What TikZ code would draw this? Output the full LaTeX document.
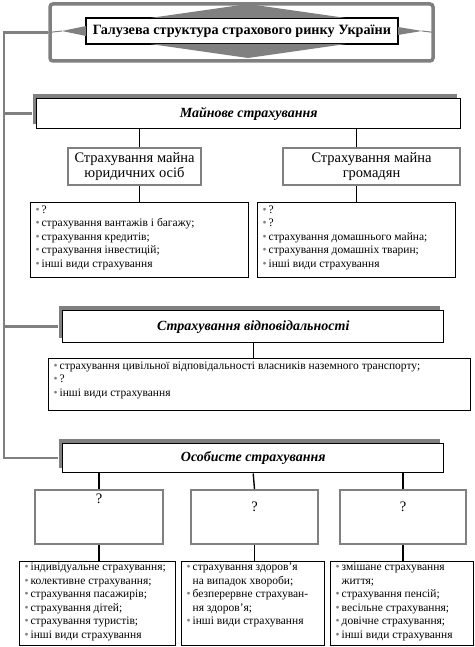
\documentclass[tikz,border=0pt]{standalone}
\usepackage{fontspec}
\setmainfont{Liberation Serif}
\usetikzlibrary{shadows}

\newcommand{\bl}{\textcolor{gray}{\textbullet}\,}
\newcommand{\bi}{\phantom{\textbullet}\,}
\newcommand{\topbox}[3]{\parbox[c][#2][t]{#1}{#3}}

\tikzset{
  frm/.style={draw=gray,line width=3.5pt,rounded corners=3pt},
  hdbox/.style={draw,line width=1.4pt,fill=white,anchor=north west,inner sep=0pt,
    font=\fontsize{14}{16}\selectfont\bfseries\itshape,
    general shadow={fill=gray,shadow xshift=-4pt,shadow yshift=5pt}},
  subbox/.style={draw=gray,line width=2pt,fill=white,anchor=north west,inner sep=0pt,
    align=center,font=\fontsize{14.5}{14.5}\selectfont},
  lstbox/.style={draw,line width=1.4pt,fill=white,anchor=north west,
    inner xsep=5pt,inner ysep=3pt,font=\fontsize{11.5}{13.5}\selectfont},
  conn/.style={line width=1.4pt},
  trunk/.style={draw=gray,line width=2.5pt},
}

\begin{document}
\begin{tikzpicture}[x=1pt,y=-1pt]
\useasboundingbox (0,0) rectangle (474,647);

% title
\node[frm,minimum width=383pt,minimum height=57pt] (frame) at (241.5,32.5) {};
\node[draw,line width=1.4pt,fill=white,minimum width=312pt,minimum height=26pt,inner sep=0pt,
      font=\fontsize{14.2}{15}\selectfont\bfseries] (ttl) at (242,31)
      {Галузева структура страхового ринку України};
\fill[gray] (62,31) -- (86,26) -- (86,36) -- cycle;
\fill[gray] (422,31) -- (398,27) -- (398,35) -- cycle;
\fill[gray] (150,18) -- (248,4) -- (346,18) -- cycle;
\fill[gray] (150,44) -- (248,58) -- (346,44) -- cycle;
\draw[gray,line width=1pt] (frame.west) -- (62,31) (422,31) -- (frame.east);

% property
\node[hdbox,minimum width=424pt,minimum height=30pt] (maj) at (36,98) {Майнове страхування};
\node[subbox,minimum width=133pt,minimum height=37pt] (s1) at (67,147)
  {Страхування майна\\юридичних осіб};
\node[subbox,minimum width=177pt,minimum height=37pt] (s2) at (282,147)
  {Страхування майна\\громадян};
\node[lstbox] (l1) at (30,202) {\topbox{208pt}{69pt}{%
  \bl ?\\
  \bl страхування вантажів і багажу;\\
  \bl страхування кредитів;\\
  \bl страхування інвестицій;\\
  \bl інші види страхування}};
\node[lstbox] (l2) at (257,202) {\topbox{188pt}{69pt}{%
  \bl ?\\
  \bl ?\\
  \bl страхування домашнього майна;\\
  \bl страхування домашніх тварин;\\
  \bl інші види страхування}};

% liability
\node[hdbox,minimum width=381pt,minimum height=32pt] (vid) at (62,310) {Страхування відповідальності};
\node[lstbox] (l3) at (48,358) {\topbox{412pt}{46pt}{%
  \bl страхування цивільної відповідальності власників наземного транспорту;\\
  \bl ?\\
  \bl інші види страхування}};

% personal
\node[hdbox,minimum width=381pt,minimum height=29pt] (os) at (62,443) {Особисте страхування};
\node[subbox,minimum width=128pt,minimum height=54pt] (g1) at (34,489)
  {\topbox{120pt}{50pt}{\centering\vspace{2pt}?}};
\node[subbox,minimum width=127pt,minimum height=54pt] (g2) at (190,489)
  {\topbox{120pt}{50pt}{\centering\vspace{10pt}?}};
\node[subbox,minimum width=126pt,minimum height=54pt] (g3) at (339,489)
  {\topbox{120pt}{50pt}{\centering\vspace{10pt}?}};
\node[lstbox,inner ysep=1.5pt] (l4) at (19,561) {\topbox{146pt}{81pt}{%
  \bl індивідуальне страхування;\\
  \bl колективне страхування;\\
  \bl страхування пасажирів;\\
  \bl страхування дітей;\\
  \bl страхування туристів;\\
  \bl інші види страхування}};
\node[lstbox,inner ysep=1.5pt] (l5) at (181,561) {\topbox{133pt}{81pt}{%
  \bl страхування здоров’я\\
  \bi на випадок хвороби;\\
  \bl безперервне страхуван-\\
  \bi ня здоров’я;\\
  \bl інші види страхування}};
\node[lstbox,inner ysep=1.5pt] (l6) at (330,561) {\topbox{133pt}{81pt}{%
  \bl змішане страхування\\
  \bi життя;\\
  \bl страхування пенсій;\\
  \bl весільне страхування;\\
  \bl довічне страхування;\\
  \bl інші види страхування}};

% connectors
\coordinate (tk) at (4,0);
\draw[trunk] (frame.west) -- (frame.west -| tk) -- (tk |- os.west) -- ([xshift=-4pt]os.west);
\draw[trunk] (tk |- maj.west) -- ([xshift=-4pt]maj.west);
\draw[trunk] (tk |- vid.west) -- ([xshift=-4pt]vid.west);
\draw[conn] (maj.south -| l1.north) -- (s1.north -| l1.north);
\draw[conn] (s1.south -| l1.north) -- (l1.north);
\draw[conn] (maj.south -| l2.north) -- (s2.north -| l2.north);
\draw[conn] (s2.south -| l2.north) -- (l2.north);
\draw[conn] (vid.south) -- (vid.south |- l3.north);
\draw[conn] (os.south -| g1.north) -- (g1.north);
\draw[conn] (os.south) -- (g2.north);
\draw[conn] (os.south -| g3.north) -- (g3.north);
\draw[conn] (g1.south) -- (g1.south |- l4.north);
\draw[conn] (g2.south) -- (g2.south |- l5.north);
\draw[conn] (g3.south) -- (g3.south |- l6.north);
\end{tikzpicture}
\end{document}
